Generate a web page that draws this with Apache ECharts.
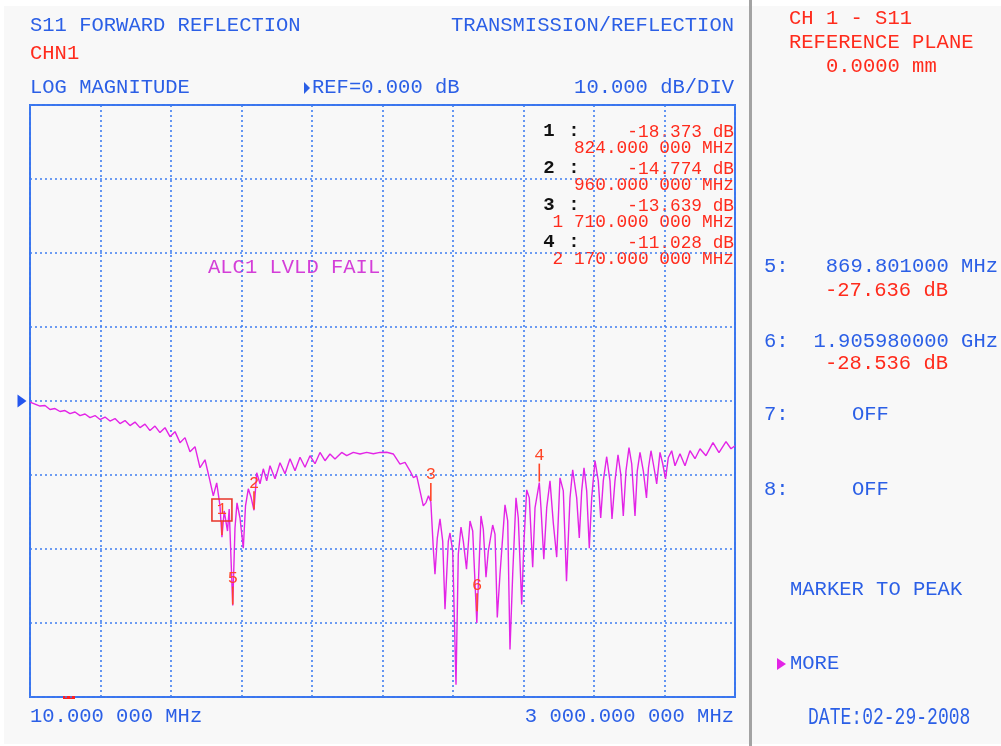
<!DOCTYPE html>
<html><head><meta charset="utf-8">
<script src="https://cdn.jsdelivr.net/npm/echarts@6/dist/echarts.min.js"></script>
<style>html,body{margin:0;padding:0;background:#fff;} #c{width:1001px;height:746px;}</style>
</head><body><div id="c"></div>
<script>
// ---- data (frequency in MHz, level in dB) ----
const startMHz = 10;
const stopMHz = 3000;
const refDb = 0;
const dbMin = -40, dbMax = 40, dbPerDiv = 10;
const xDivisions = 10;

const trace = [
 [10,-0.14],[31.2,-0.41],[52.4,-0.68],[73.6,-0.61],[94.8,-1.15],[116.0,-1.02],[137.2,-1.42],[158.4,-1.29],
 [179.6,-1.70],[200.8,-1.49],[222.1,-1.97],[243.3,-1.76],[264.5,-2.24],[285.7,-1.97],[306.9,-2.51],[328.1,-2.17],
 [349.3,-2.71],[370.5,-2.37],[391.7,-3.05],[412.9,-2.65],[434.1,-3.32],[455.3,-2.85],[476.5,-3.60],[497.7,-3.12],
 [518.9,-4.00],[540.1,-3.39],[561.3,-4.27],[582.5,-3.60],[603.8,-4.82],[625.0,-4.14],[646.2,-5.63],[667.4,-4.95],
 [688.6,-6.85],[709.8,-6.17],[731.0,-9.02],[752.2,-7.94],[771.3,-10.52],[787.4,-12.82],[801.8,-11.06],[815.8,-14.18],
 [824.0,-18.40],[833.6,-14.86],[847.6,-17.57],[854.8,-14.59],[869.8,-27.64],[879.4,-17.16],[887.9,-13.77],[900.6,-15.81],
 [914.6,-19.88],[924.0,-14.18],[935.8,-11.87],[947.3,-12.96],[960.0,-14.77],[971.5,-9.70],[985.5,-11.19],[999.5,-9.16],
 [1013.9,-10.79],[1027.9,-8.75],[1049.1,-10.52],[1070.3,-8.34],[1091.5,-9.84],[1112.7,-7.80],[1133.9,-9.43],[1155.1,-7.60],
 [1176.3,-8.96],[1197.5,-7.39],[1218.7,-8.48],[1239.9,-6.95],[1261.1,-8.07],[1282.3,-7.16],[1303.5,-7.84],[1331.9,-6.95],
 [1353.2,-7.39],[1381.2,-6.95],[1409.6,-7.16],[1438.0,-6.95],[1466.0,-7.12],[1494.4,-6.95],[1522.8,-6.92],[1550.8,-7.16],
 [1579.2,-8.52],[1600.4,-8.30],[1621.6,-9.43],[1635.6,-10.34],[1650.0,-10.11],[1664.0,-12.14],[1678.0,-14.18],[1689.5,-13.73],
 [1700.1,-12.82],[1710.0,-13.64],[1720.4,-19.88],[1727.6,-23.41],[1737.4,-18.52],[1748.9,-15.94],[1760.3,-18.93],[1770.1,-28.15],
 [1784.1,-18.93],[1791.3,-17.84],[1802.7,-20.28],[1816.7,-38.33],[1826.5,-20.69],[1837.9,-17.03],[1847.7,-18.93],[1861.3,-22.73],
 [1876.1,-16.21],[1887.6,-17.57],[1905.0,-30.00],[1922.7,-15.54],[1932.5,-17.30],[1943.9,-23.81],[1953.7,-20.28],[1972.3,-16.76],
 [1982.1,-17.98],[1991.8,-29.24],[2003.3,-23.41],[2024.5,-14.04],[2036.0,-16.21],[2045.7,-33.58],[2057.2,-23.41],[2071.2,-13.09],
 [2080.9,-15.81],[2095.3,-27.48],[2105.1,-18.93],[2116.5,-12.01],[2127.6,-13.09],[2142.0,-22.46],[2151.8,-14.45],[2170.0,-11.03],
 [2177.2,-14.45],[2189.1,-21.37],[2201.4,-14.45],[2215.4,-10.79],[2229.4,-16.49],[2243.8,-21.10],[2257.8,-10.38],[2271.8,-12.14],
 [2285.4,-24.36],[2300.2,-13.09],[2311.6,-9.29],[2328.6,-13.09],[2339.6,-18.52],[2349.8,-12.14],[2359.6,-9.02],[2371.0,-12.14],
 [2382.1,-19.88],[2392.2,-13.09],[2406.2,-8.07],[2420.2,-10.79],[2430.4,-15.81],[2441.4,-10.79],[2455.8,-7.53],[2469.8,-10.79],
 [2478.3,-15.94],[2491.0,-10.79],[2503.8,-7.26],[2515.2,-9.84],[2526.2,-15.54],[2537.7,-9.43],[2550.4,-6.31],[2561.9,-8.48],
 [2575.9,-15.54],[2585.6,-9.43],[2597.1,-6.95],[2611.1,-9.43],[2624.6,-13.09],[2633.1,-9.02],[2643.7,-6.72],[2656.5,-9.02],
 [2667.9,-11.19],[2681.9,-6.95],[2693.4,-8.48],[2705.3,-10.52],[2717.1,-7.67],[2731.5,-6.72],[2745.5,-8.75],[2766.7,-7.12],
 [2787.9,-8.75],[2809.1,-6.72],[2830.3,-7.80],[2851.5,-6.45],[2876.9,-7.39],[2906.6,-5.63],[2932.1,-6.99],[2961.8,-5.50],
 [2983.0,-6.45],[3000,-6.04]
];

const markerIds = ['1','2','3','4','5','6'];
const markerMHz = [824, 960, 1710, 2170, 869.801, 1905.98];
const markerDb = [-18.373, -14.774, -13.639, -11.028, -27.636, -28.536];
const markerFreqText = ['824.000 000 MHz','960.000 000 MHz','1 710.000 000 MHz','2 170.000 000 MHz','869.801000 MHz','1.905980000 GHz'];
const activeMarker = 0;

// ---- styles ----
const BLUE = '#2b5fe6', RED = '#ff2b1c', MAG = '#e324e6', MRK = '#ff4526';
const FONT = '"Liberation Mono","DejaVu Sans Mono",monospace';
const f = (px, w) => (w ? w + ' ' : '') + px + 'px ' + FONT;

function txt(text, x, y, fill, font, align, sx, sy) {
  return { type: 'text', x: x, y: y, silent: true, scaleX: sx || 1, scaleY: sy || 1,
    style: { text: text, fill: fill, font: font || f(20.5), align: align || 'left', verticalAlign: 'middle' } };
}

const graphics = [
  { type: 'rect', shape: { x: 4, y: 6, width: 997, height: 738 }, style: { fill: '#f8f8f8' }, z: -10 },
  { type: 'rect', shape: { x: 749, y: 0, width: 3, height: 746 }, style: { fill: '#a3a3a3' } },
  txt('S11 FORWARD REFLECTION', 30, 26, BLUE),
  txt('TRANSMISSION/REFLECTION', 734, 26, BLUE, null, 'right'),
  txt('CHN1', 30, 54, RED),
  txt('LOG MAGNITUDE', 30, 88, BLUE),
  { type: 'polygon', shape: { points: [[304, 82], [310, 88], [304, 94]] }, style: { fill: BLUE } },
  txt('REF=' + refDb.toFixed(3) + ' dB', 312, 88, BLUE),
  txt(dbPerDiv.toFixed(3) + ' dB/DIV', 734, 88, BLUE, null, 'right'),
  txt('10.000 000 MHz', 30, 717, BLUE),
  txt('3 000.000 000 MHz', 734, 717, BLUE, null, 'right'),
  txt('ALC1 LVLD FAIL', 208, 268, '#d43ed8'),
  txt('CH 1 - S11', 789, 19, RED),
  txt('REFERENCE PLANE', 789, 43, RED),
  txt('0.0000 mm', 826, 67, RED),
  txt('5:', 764, 267, BLUE),
  txt(markerFreqText[4], 998, 267, BLUE, null, 'right'),
  txt(markerDb[4].toFixed(3) + ' dB', 948, 291, RED, null, 'right'),
  txt('6:', 764, 342, BLUE),
  txt(markerFreqText[5], 998, 342, BLUE, null, 'right'),
  txt(markerDb[5].toFixed(3) + ' dB', 948, 364, RED, null, 'right'),
  txt('7:', 764, 415, BLUE),
  txt('OFF', 852, 415, BLUE),
  txt('8:', 764, 490, BLUE),
  txt('OFF', 852, 490, BLUE),
  txt('MARKER TO PEAK', 790, 590, BLUE),
  { type: 'polygon', shape: { points: [[777, 658], [786, 664], [777, 670]] }, style: { fill: MAG } },
  txt('MORE', 790, 664, BLUE),
  txt('DATE:02-29-2008', 808, 717, BLUE, null, 'left', 0.88, 1.2),
  { type: 'rect', shape: { x: 63, y: 696, width: 12, height: 3 }, style: { fill: '#ff2020' } }
];
for (let k = 0; k < 4; k++) {
  const y0 = 131 + 37 * k;
  graphics.push(txt(markerIds[k], 549, y0, '#111', f(19, 'bold'), 'center'));
  graphics.push(txt(':', 574, y0, '#111', f(19, 'bold'), 'center'));
  graphics.push(txt(markerDb[k].toFixed(3) + ' dB', 734, y0 + 1, RED, f(17.8), 'right'));
  graphics.push(txt(markerFreqText[k], 734, y0 + 17, RED, f(17.8), 'right'));
}

const chart = echarts.init(document.getElementById('c'), null, { renderer: 'canvas' });
const dotted = { type: [2, 3], width: 1.6, color: '#3f7df0' };
chart.setOption({
  animation: false,
  backgroundColor: '#ffffff',
  grid: { left: 30, top: 105, width: 705, height: 592, show: true, borderColor: '#3a74ee', borderWidth: 2, backgroundColor: 'transparent', containLabel: false },
  xAxis: [
    { type: 'value', min: startMHz, max: stopMHz, show: true, axisLine: { show: false }, axisTick: { show: false }, axisLabel: { show: false }, splitLine: { show: false } },
    { type: 'value', min: 0, max: xDivisions, interval: 1, axisLine: { show: false }, axisTick: { show: false }, axisLabel: { show: false }, splitLine: { show: true, lineStyle: dotted } }
  ],
  yAxis: { type: 'value', min: dbMin, max: dbMax, interval: dbPerDiv, axisLine: { show: false }, axisTick: { show: false }, axisLabel: { show: false }, splitLine: { show: true, lineStyle: dotted } },
  series: [
    { type: 'line', xAxisIndex: 0, data: trace, showSymbol: false, symbol: 'none', clip: true,
      lineStyle: { color: MAG, width: 1.4 },
      markPoint: { symbol: 'path://M0,0 L9,6.5 L0,13 Z', symbolSize: [9, 13], symbolOffset: [-8, 0], silent: true,
        itemStyle: { color: '#2456ee' }, label: { show: false }, data: [{ coord: [startMHz, refDb] }] } },
    { type: 'custom', xAxisIndex: 0, data: markerMHz.map((m, i) => [m, markerDb[i]]), clip: false, z: 5,
      renderItem: function (params, api) {
        const p = api.coord([api.value(0), api.value(1)]);
        const i = params.dataIndex;
        const ch = [];
        if (i === activeMarker) {
          ch.push({ type: 'rect', shape: { x: p[0] - 10, y: p[1] - 38, width: 20, height: 22 }, style: { fill: 'none', stroke: '#e8352a', lineWidth: 1.6 } });
          ch.push({ type: 'line', shape: { x1: p[0], y1: p[1] - 16, x2: p[0], y2: p[1] - 2 }, style: { stroke: MRK, lineWidth: 1.6 } });
        } else {
          ch.push({ type: 'line', shape: { x1: p[0], y1: p[1] - 19, x2: p[0], y2: p[1] - 1 }, style: { stroke: MRK, lineWidth: 1.6 } });
        }
        ch.push({ type: 'text', style: { text: markerIds[i], x: p[0], y: p[1] - 27, align: 'center', verticalAlign: 'middle', fill: MRK, font: f(17) } });
        return { type: 'group', children: ch };
      } }
  ],
  graphic: graphics
});
</script>
</body></html>
